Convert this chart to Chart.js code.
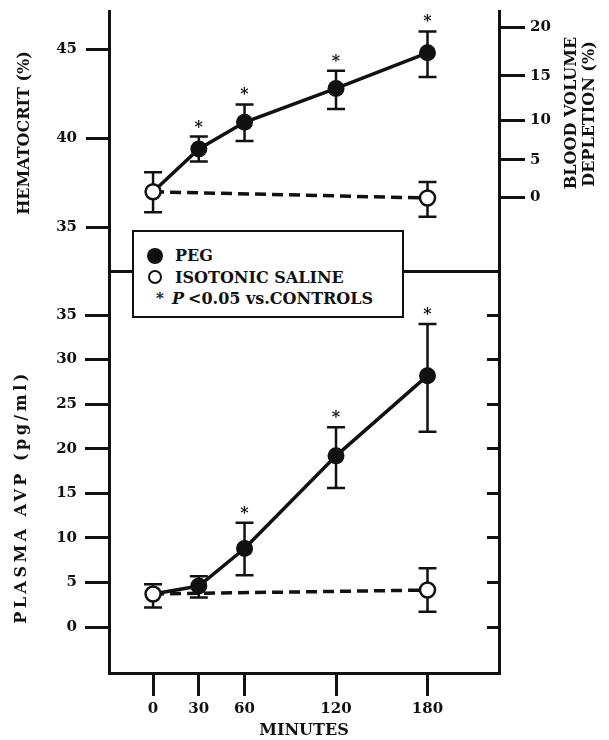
<!DOCTYPE html>
<html>
<head>
<meta charset="utf-8">
<script src="https://cdn.jsdelivr.net/npm/chart.js@4.4.1/dist/chart.umd.min.js"></script>
<style>
  body { margin: 0; background: #fff; }
  #wrap { position: relative; width: 609px; height: 740px; }
  canvas { position: absolute; left: 0; }
  #topChart { top: 0; }
  #bottomChart { top: 262px; }
  #legend {
    position: absolute; left: 132px; top: 230px; width: 272px; height: 88px;
    border: 2px solid #111; background: #fff; box-sizing: border-box;
    font: bold 16px "DejaVu Serif", serif; color: #111;
    padding-top: 13px;
  }
  #legend .row { height: 21.5px; line-height: 21.5px; display: flex; align-items: center; }
  #legend .sym { width: 16px; height: 16px; margin: 0 12px 0 13px; border-radius: 50%; box-sizing: border-box; flex: none; }
  #legend .filled { background: #111; }
  #legend .open { border: 2.5px solid #111; width: 14px; height: 14px; margin: 0 13px 0 14px; }
  #legend .star { width: 10px; margin: 0 6px 0 22px; font-size: 15px; flex: none; }
  #legend i { font-style: italic; margin-right: 4px; }
</style>
</head>
<body>
<div id="wrap">
  <canvas id="topChart" width="609" height="272"></canvas>
  <canvas id="bottomChart" width="609" height="478"></canvas>
  <div id="legend">
    <div class="row"><span class="sym filled"></span>PEG</div>
    <div class="row"><span class="sym open"></span>ISOTONIC SALINE</div>
    <div class="row"><span class="star">*</span><i>P</i>&lt;0.05 vs.CONTROLS</div>
  </div>
</div>
<script>
// ---------- data ----------
const minutes = [0, 30, 60, 120, 180];
const salineMinutes = [0, 180];

// hematocrit (%)
const pegHct = [37.0, 39.4, 40.9, 42.8, 44.8];
const pegHctHi = [null, 40.1, 41.9, 43.8, 46.0];
const pegHctLo = [null, 38.7, 39.85, 41.65, 43.45];
const pegHctSig = [false, true, true, true, true];
const salineHct = [37.0, 36.65];
const salineHctHi = [38.1, 37.55];
const salineHctLo = [35.85, 35.6];

// plasma AVP (pg/ml)
const pegAvp = [3.7, 4.6, 8.8, 19.2, 28.2];
const pegAvpHi = [null, 5.7, 11.7, 22.4, 34.0];
const pegAvpLo = [null, 3.3, 5.8, 15.6, 21.9];
const pegAvpSig = [false, false, true, true, true];
const salineAvp = [3.7, 4.15];
const salineAvpHi = [4.8, 6.6];
const salineAvpLo = [2.2, 1.7];

// axes
const hctTicks = [35, 40, 45];
const depletionLabels = [0, 5, 10, 15, 20];
const depletionAtHct = [36.7, 38.8, 41.0, 43.5, 46.25]; // where each depletion tick sits on the hematocrit scale
const avpTicks = [0, 5, 10, 15, 20, 25, 30, 35];
const minuteTicks = [0, 30, 60, 120, 180];

const INK = '#111';
const FONT = '"DejaVu Serif", serif';
Chart.defaults.font.family = FONT;
Chart.defaults.color = INK;

const pts = (xs, ys) => xs.map((x, i) => ({ x: x, y: ys[i] }));

// error bars + significance stars
const errorBars = {
  id: 'errorBars',
  beforeDatasetsDraw(chart) {
    const { ctx, scales: { x, y } } = chart;
    ctx.save();
    ctx.strokeStyle = INK;
    ctx.lineWidth = 2.5;
    chart.data.datasets.forEach(ds => {
      if (!ds.errHi) return;
      ds.data.forEach((p, i) => {
        if (ds.errHi[i] == null) return;
        const px = x.getPixelForValue(p.x);
        const top = y.getPixelForValue(ds.errHi[i]);
        const bot = y.getPixelForValue(ds.errLo[i]);
        ctx.beginPath();
        ctx.moveTo(px, top); ctx.lineTo(px, bot);
        ctx.moveTo(px - 9, top); ctx.lineTo(px + 9, top);
        ctx.moveTo(px - 9, bot); ctx.lineTo(px + 9, bot);
        ctx.stroke();
      });
    });
    ctx.restore();
  },
  afterDatasetsDraw(chart) {
    const { ctx, scales: { x, y } } = chart;
    ctx.save();
    ctx.fillStyle = INK;
    ctx.font = 'bold 16px ' + FONT;
    ctx.textAlign = 'center';
    ctx.textBaseline = 'alphabetic';
    chart.data.datasets.forEach(ds => {
      if (!ds.sig) return;
      ds.data.forEach((p, i) => {
        if (!ds.sig[i]) return;
        ctx.fillText('*', x.getPixelForValue(p.x), y.getPixelForValue(ds.errHi[i]) - 5);
      });
    });
    ctx.restore();
  }
};

// rotated axis titles (read bottom to top on both sides)
const sideTitles = {
  id: 'sideTitles',
  afterDraw(chart, args, opts) {
    const ctx = chart.ctx;
    (opts.items || []).forEach(t => {
      ctx.save();
      ctx.translate(t.x, t.y);
      ctx.rotate(-Math.PI / 2);
      ctx.font = 'bold 16px ' + FONT;
      ctx.letterSpacing = (t.spacing || 0) + 'px';
      ctx.fillStyle = INK;
      ctx.textAlign = 'center';
      ctx.textBaseline = 'middle';
      ctx.fillText(t.text, 0, 0);
      ctx.restore();
    });
  }
};

const xRange = { min: -28.9, max: 226.9 };
const tickFont = { size: 15, weight: 'bold' };
const axisGrid = (len) => ({ drawOnChartArea: false, tickLength: len, lineWidth: 3, color: INK });
const axisBorder = { display: true, width: 3, color: INK };

// fixed scale size, and no extra room reserved for the end labels
const fitY = w => s => { s.width = w; s.paddingTop = 0; s.paddingBottom = 0; };
const fitX = h => s => { s.height = h; s.paddingLeft = 0; s.paddingRight = 0; };

function pegStyle() {
  return {
    borderColor: INK, backgroundColor: INK, borderWidth: 3.5,
    pointRadius: [0, 8.5, 8.5, 8.5, 8.5], pointBackgroundColor: INK, pointBorderColor: INK,
    pointBorderWidth: 0, tension: 0, order: 1
  };
}
function salineStyle() {
  return {
    borderColor: INK, borderWidth: 3.5, borderDash: [11, 6],
    pointRadius: 7.5, pointBackgroundColor: '#fff', pointBorderColor: INK,
    pointBorderWidth: 2.5, tension: 0, order: 0
  };
}

// ---------- top panel: hematocrit ----------
new Chart(document.getElementById('topChart'), {
  type: 'line',
  data: {
    datasets: [
      Object.assign({ label: 'PEG', data: pts(minutes, pegHct), errHi: pegHctHi, errLo: pegHctLo, sig: pegHctSig }, pegStyle()),
      Object.assign({ label: 'ISOTONIC SALINE', data: pts(salineMinutes, salineHct), errHi: salineHctHi, errLo: salineHctLo }, salineStyle())
    ]
  },
  options: {
    responsive: false, animation: false, events: [],
    layout: { autoPadding: false, padding: { top: 11, bottom: 1, left: 0, right: 0 } },
    plugins: {
      legend: { display: false }, tooltip: { enabled: false },
      sideTitles: { items: [
        { text: 'HEMATOCRIT (%)', x: 25, y: 133 },
        { text: 'BLOOD VOLUME', x: 572, y: 113 },
        { text: 'DEPLETION (%)', x: 590, y: 114 }
      ] }
    },
    scales: {
      x: { type: 'linear', display: false, min: xRange.min, max: xRange.max },
      y: {
        type: 'linear', position: 'left', min: 32.55, max: 47.15,
        afterBuildTicks: s => { s.ticks = hctTicks.map(v => ({ value: v })); },
        afterFit: fitY(109),
        ticks: { font: tickFont, padding: 9 },
        grid: axisGrid(23), border: axisBorder
      },
      yR: {
        type: 'linear', position: 'right', min: 32.55, max: 47.15,
        afterBuildTicks: s => { s.ticks = depletionAtHct.map(v => ({ value: v })); },
        afterFit: fitY(110),
        ticks: { font: tickFont, padding: 5, callback: (v, i) => depletionLabels[i] },
        grid: axisGrid(26), border: axisBorder
      }
    }
  },
  plugins: [errorBars, sideTitles]
});

// ---------- bottom panel: plasma AVP ----------
new Chart(document.getElementById('bottomChart'), {
  type: 'line',
  data: {
    datasets: [
      Object.assign({ label: 'PEG', data: pts(minutes, pegAvp), errHi: pegAvpHi, errLo: pegAvpLo, sig: pegAvpSig }, pegStyle()),
      Object.assign({ label: 'ISOTONIC SALINE', data: pts(salineMinutes, salineAvp), errHi: salineAvpHi, errLo: salineAvpLo }, salineStyle())
    ]
  },
  options: {
    responsive: false, animation: false, events: [],
    layout: { autoPadding: false, padding: { top: 9, bottom: 0, left: 0, right: 0 } },
    plugins: {
      legend: { display: false }, tooltip: { enabled: false },
      sideTitles: { items: [
        { text: 'PLASMA AVP (pg/ml)', x: 22, y: 235, spacing: 3.5 }
      ] }
    },
    scales: {
      x: {
        type: 'linear', position: 'bottom', min: xRange.min, max: xRange.max,
        afterBuildTicks: s => { s.ticks = minuteTicks.map(v => ({ value: v })); },
        afterFit: fitX(67),
        ticks: { font: tickFont, padding: 4, autoSkip: false, maxRotation: 0 },
        grid: axisGrid(23), border: axisBorder,
        title: { display: true, text: 'MINUTES', font: { size: 16, weight: 'bold' }, padding: { top: 0, bottom: 0 } }
      },
      xTop: {
        type: 'linear', position: 'top', min: xRange.min, max: xRange.max,
        afterFit: fitX(0),
        ticks: { display: false },
        grid: { drawOnChartArea: false, drawTicks: false }, border: axisBorder
      },
      y: {
        type: 'linear', position: 'left', min: -5.16, max: 39.94,
        afterBuildTicks: s => { s.ticks = avpTicks.map(v => ({ value: v })); },
        afterFit: fitY(109),
        ticks: { font: tickFont, padding: 8 },
        grid: axisGrid(24), border: axisBorder
      },
      yR: {
        type: 'linear', position: 'right', min: -5.16, max: 39.94,
        afterBuildTicks: s => { s.ticks = avpTicks.map(v => ({ value: v })); },
        afterFit: fitY(110),
        ticks: { display: false },
        grid: axisGrid(-12), border: axisBorder
      }
    }
  },
  plugins: [errorBars, sideTitles]
});
</script>
</body>
</html>
